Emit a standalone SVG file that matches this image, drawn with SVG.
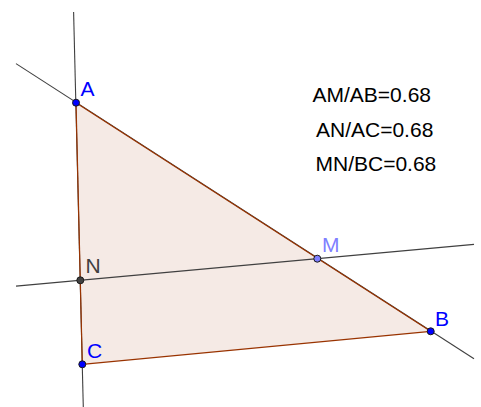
<svg xmlns="http://www.w3.org/2000/svg" width="481" height="407" viewBox="0 0 481 407">
<style>
.ln{stroke:#404040;stroke-width:1.1;fill:none}
.edge{stroke:#993300;stroke-width:1.2;fill:none}
.pt{stroke:#1a1a1a;stroke-width:1}
.lbl{font-family:"Liberation Sans",Arial,sans-serif;font-size:21px}
.txt{font-family:"Liberation Sans",Arial,sans-serif;font-size:21px;fill:#000}
</style>
<rect width="481" height="407" fill="#ffffff"/>
<g id="triangle">
<polygon points="76,102.7 430.7,331.3 82.3,364.3" fill="#993300" fill-opacity="0.1" stroke="none"/>
</g>
<g id="connectors">
<line class="ln" x1="73.6" y1="12" x2="83.3" y2="407"/>
<line class="ln" x1="16" y1="63.6" x2="474" y2="358.8"/>
<line class="ln" x1="16" y1="286.1" x2="474" y2="244.4"/>
<line class="edge" x1="76" y1="102.7" x2="430.7" y2="331.3"/>
<line class="edge" x1="430.7" y1="331.3" x2="82.3" y2="364.3"/>
<line class="edge" x1="82.3" y1="364.3" x2="76" y2="102.7"/>
</g>
<g id="A">
<circle class="pt" cx="76" cy="102.7" r="3.5" fill="#0000ff"/>
<text class="lbl" x="80.5" y="96" fill="#0000ff">A</text>
</g>
<g id="B">
<circle class="pt" cx="430.7" cy="331.3" r="3.5" fill="#0000ff"/>
<text class="lbl" x="435" y="326" fill="#0000ff">B</text>
</g>
<g id="C">
<circle class="pt" cx="82.3" cy="364.3" r="3.5" fill="#0000ff"/>
<text class="lbl" x="87" y="357.5" fill="#0000ff">C</text>
</g>
<g id="M">
<circle class="pt" cx="317.3" cy="258.7" r="3.5" fill="#7f7fff"/>
<text class="lbl" x="322" y="251.5" fill="#7f7fff">M</text>
</g>
<g id="N">
<circle class="pt" cx="80.3" cy="280.3" r="3.5" fill="#404040"/>
<text class="lbl" x="85.5" y="273.3" fill="#404040">N</text>
</g>
<g id="ratios">
<text class="txt" x="312.5" y="101.5">AM/AB=0.68</text>
<text class="txt" x="316" y="136.5">AN/AC=0.68</text>
<text class="txt" x="315.5" y="171">MN/BC=0.68</text>
</g>
</svg>
